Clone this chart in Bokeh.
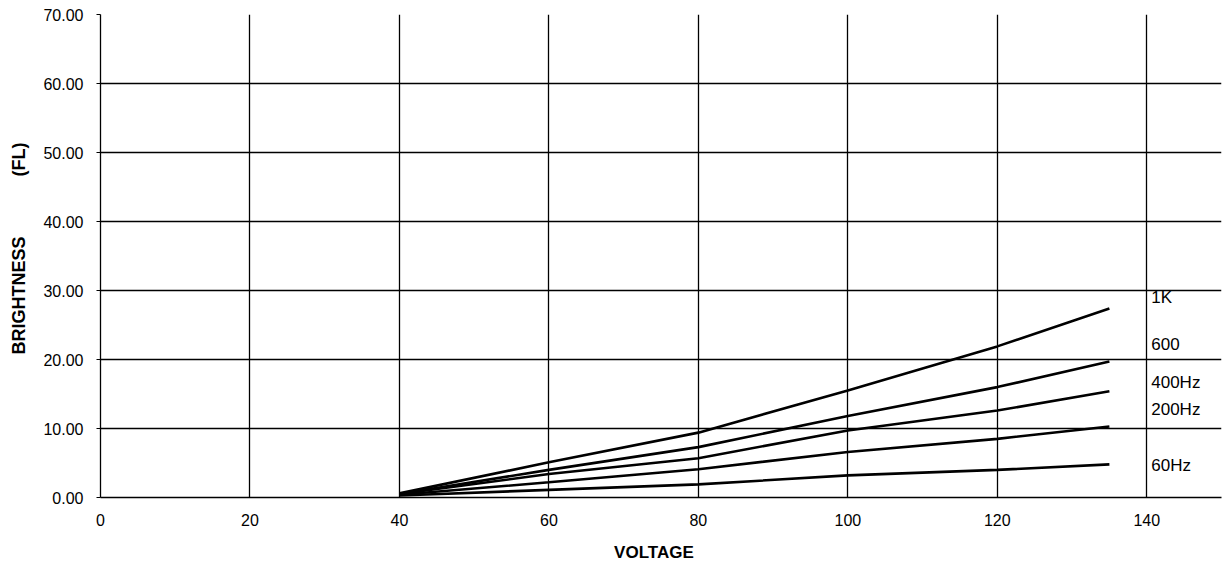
from bokeh.plotting import figure
from bokeh.models import FixedTicker, NumeralTickFormatter, Range1d, ColumnDataSource
from bokeh.core.properties import value
from bokeh.embed import file_html
from bokeh.resources import INLINE

voltage = [40, 60, 80, 100, 120, 135]
b_1k = [0.6, 5.1, 9.4, 15.5, 21.9, 27.4]
b_600 = [0.5, 4.0, 7.3, 11.8, 16.0, 19.7]
b_400 = [0.5, 3.4, 5.7, 9.7, 12.6, 15.4]
b_200 = [0.4, 2.2, 4.1, 6.6, 8.5, 10.3]
b_60 = [0.3, 1.1, 1.9, 3.2, 4.0, 4.8]

series_labels = ["1K", "600", "400Hz", "200Hz", "60Hz"]
label_x = [140.6, 140.6, 140.6, 140.6, 140.6]
label_y = [29.0, 22.3, 16.7, 12.8, 4.6]

x_ticks = [0, 20, 40, 60, 80, 100, 120, 140]
y_ticks = [0, 10, 20, 30, 40, 50, 60, 70]

FONT = "Liberation Sans"

p = figure(width=1222, height=565, output_backend="svg", toolbar_location=None,
           x_range=Range1d(0, 150), y_range=Range1d(0, 70),
           min_border_left=100, min_border_right=1, min_border_top=14, min_border_bottom=68)
p.outline_line_color = None
p.background_fill_color = "white"
p.border_fill_color = "white"

for ys in [b_1k, b_600, b_400, b_200, b_60]:
    p.line(voltage, ys, line_color="black", line_width=2.6)

src = ColumnDataSource(dict(x=label_x, y=label_y, t=series_labels))
p.text(x="x", y="y", text="t", source=src, text_font=value(FONT), text_font_size="17px",
       text_color="black", text_align="left", text_baseline="middle")

p.xaxis.ticker = FixedTicker(ticks=x_ticks)
p.yaxis.ticker = FixedTicker(ticks=y_ticks)
p.yaxis.formatter = NumeralTickFormatter(format="0.00")

p.xgrid.ticker = FixedTicker(ticks=x_ticks)
p.ygrid.ticker = FixedTicker(ticks=y_ticks)
for g in (p.xgrid, p.ygrid):
    g.grid_line_color = "black"
    g.grid_line_width = 1.3
    g.grid_line_alpha = 1.0

for ax in (p.xaxis, p.yaxis):
    ax.axis_line_color = "black"
    ax.axis_line_width = 1.3
    ax.major_label_text_font = FONT
    ax.major_label_text_font_size = "16px"
    ax.major_label_text_color = "black"
    ax.axis_label_text_font = FONT
    ax.axis_label_text_font_style = "bold"
    ax.axis_label_text_color = "black"
    ax.minor_tick_line_color = None

p.xaxis.major_tick_line_color = None
p.xaxis.major_tick_out = 0
p.xaxis.major_tick_in = 0
p.xaxis.major_label_standoff = 16
p.xaxis.axis_label = "VOLTAGE" + "\u00a0" * 3
p.xaxis.axis_label_text_font_size = "17px"
p.xaxis.axis_label_standoff = 14

p.yaxis.major_tick_line_color = "black"
p.yaxis.major_tick_out = 4
p.yaxis.major_tick_in = 0
p.yaxis.major_label_standoff = 13
p.yaxis.axis_label = "\u00a0" * 3 + "BRIGHTNESS" + "\u00a0" * 12 + "(FL)"
p.yaxis.axis_label_text_font_size = "18px"
p.yaxis.axis_label_standoff = 11

open("out.html", "w").write(file_html(p, INLINE))
